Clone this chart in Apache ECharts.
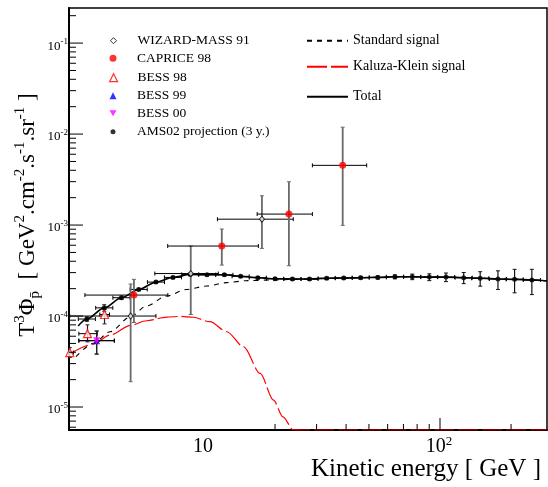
<!DOCTYPE html>
<html><head><meta charset="utf-8">
<script src="https://cdn.jsdelivr.net/npm/echarts@6/dist/echarts.min.js"></script>
<style>html,body{margin:0;padding:0;background:#fff}#c{width:548px;height:487px}</style>
</head><body><div id="c"></div>
<script>
// ---- axis ranges ----
const xMin = 2.68, xMax = 284;
const yMin = 5.59e-6, yMax = 0.243;

// ---- tick values / labels ----
const xMajorTicks = [100];
const xMinorTicks = [20, 30, 40, 50, 60, 70, 80, 90, 200];
const xTickLabelValues = [10, 100];
const xTickLabelTexts = ['10', '10{s|2}'];
const yMajorTicks = [1e-5, 1e-4, 1e-3, 1e-2, 1e-1];
const yTickLabelTexts = ['10{s|-5}', '10{s|-4}', '10{s|-3}', '10{s|-2}', '10{s|-1}'];
const yDecades = [1e-6, 1e-5, 1e-4, 1e-3, 1e-2, 1e-1];
const yMinorTicks = [];
yDecades.forEach(d => { for (let k = 2; k <= 9; k++) { const v = k * d; if (v > yMin && v < yMax) yMinorTicks.push(v); } });

// ---- AMS02 projection ----
const amsE = [3.19, 3.78, 4.47, 5.29, 6.26, 7.39, 8.75, 10.3, 12.2, 14.3, 16.9, 20.0, 23.7, 28.0, 33.1, 39.1, 46.1, 54.5, 64.4, 76.3, 90.1, 106, 126, 148, 176, 207, 245];
const amsV = [9.27e-5, 1.23e-4, 1.59e-4, 1.96e-4, 2.36e-4, 2.66e-4, 2.87e-4, 2.84e-4, 2.84e-4, 2.73e-4, 2.64e-4, 2.57e-4, 2.55e-4, 2.55e-4, 2.60e-4, 2.62e-4, 2.64e-4, 2.66e-4, 2.70e-4, 2.70e-4, 2.68e-4, 2.68e-4, 2.64e-4, 2.60e-4, 2.55e-4, 2.53e-4, 2.49e-4];
const amsErr = [5e-6, 1.0e-5, 6.4e-6, 5.9e-6, 7.1e-6, 8.0e-6, 8.6e-6, 8.5e-6, 8.5e-6, 8.2e-6, 7.9e-6, 7.7e-6, 7.7e-6, 7.7e-6, 7.8e-6, 7.9e-6, 9.2e-6, 1.06e-5, 1.35e-5, 1.9e-5, 2.3e-5, 2.9e-5, 3.7e-5, 4.7e-5, 5.9e-5, 7.3e-5, 7.7e-5];
const amsBinFactor = 1.087;

// ---- CAPRICE 98 ----
const capE = [5.05, 11.9, 22.9, 38.7];
const capV = [1.70e-4, 5.88e-4, 1.32e-3, 4.53e-3];
const capLow = [0.85e-4, 3.63e-4, 3.57e-4, 9.93e-4];
const capHigh = [2.53e-4, 9.04e-4, 2.99e-3, 1.19e-2];
const capEmin = [3.13, 7.02, 16.8, 28.8];
const capEmax = [7.03, 17.0, 28.8, 48.9];

// ---- WIZARD-MASS 91 ----
const wizE = [4.89, 8.79, 17.6];
const wizV = [1.0e-4, 2.93e-4, 1.16e-3];
const wizLow = [1.9e-5, 1.04e-4, 5.54e-4];
const wizHigh = [2.25e-4, 5.88e-4, 2.10e-3];
const wizEmin = [2.70, 6.19, 11.4];
const wizEmax = [6.26, 11.5, 23.9];

// ---- BESS 98 ----
const b98E = [2.70, 3.21, 3.79];
const b98V = [3.97e-5, 6.40e-5, 1.04e-4];
const b98Low = [3.5e-5, 5.2e-5, 8.2e-5];
const b98High = [4.5e-5, 8.0e-5, 1.18e-4];
const b98Emin = [2.62, 2.95, 3.62];
const b98Emax = [2.80, 3.53, 3.98];

// ---- BESS 99 ----
const b99E = [3.51];
const b99V = [5.36e-5];
const b99Low = [3.82e-5];
const b99High = [6.84e-5];
const b99Emin = [2.95];
const b99Emax = [4.17];

// ---- BESS 00 ----
const b00E = [3.51];
const b00V = [5.36e-5];
const b00Low = [3.82e-5];
const b00High = [6.84e-5];
const b00Emin = [2.95];
const b00Emax = [4.17];

// ---- model curves ----
const stdE = [2.87, 3.40, 4.00, 4.89, 5.71, 6.95, 8.45, 10.3, 12.5, 15.2, 19.6, 23.7, 28.0, 39.1, 54.5, 76.3, 106, 148, 207, 284];
const stdV = [3.57e-5, 5.01e-5, 6.72e-5, 9.82e-5, 1.29e-4, 1.66e-4, 1.96e-4, 2.14e-4, 2.33e-4, 2.45e-4, 2.49e-4, 2.53e-4, 2.54e-4, 2.61e-4, 2.66e-4, 2.70e-4, 2.68e-4, 2.60e-4, 2.53e-4, 2.43e-4];
const kkE = [2.70, 3.40, 4.00, 4.89, 5.71, 6.95, 7.94, 9.0, 10.6, 12.5, 14.7, 17.3, 19.7, 21.6, 23.9, 26, 40, 100, 284];
const kkV = [3.82e-5, 4.92e-5, 6.18e-5, 7.90e-5, 8.88e-5, 9.75e-5, 9.9e-5, 9.7e-5, 8.66e-5, 6.72e-5, 4.6e-5, 2.34e-5, 1.19e-5, 7.8e-6, 5.6e-6, 4e-6, 1e-6, 1e-7, 1e-8];
const totE = [2.93, 3.19, 3.78, 4.47, 5.29, 6.26, 7.39, 8.75, 10.3, 12.2, 14.3, 16.9, 20.0, 23.7, 28.0, 33.1, 39.1, 46.1, 54.5, 64.4, 76.3, 90.1, 106, 126, 148, 176, 207, 245, 284];
const totV = [7.77e-5, 9.27e-5, 1.23e-4, 1.59e-4, 1.96e-4, 2.36e-4, 2.66e-4, 2.87e-4, 2.84e-4, 2.84e-4, 2.73e-4, 2.64e-4, 2.57e-4, 2.55e-4, 2.55e-4, 2.60e-4, 2.62e-4, 2.64e-4, 2.66e-4, 2.70e-4, 2.70e-4, 2.68e-4, 2.68e-4, 2.64e-4, 2.60e-4, 2.55e-4, 2.53e-4, 2.49e-4, 2.43e-4];

// ---- legend ----
const markerNames = ['WIZARD-MASS 91', 'CAPRICE 98', 'BESS 98', 'BESS 99', 'BESS 00', 'AMS02 projection (3 y.)'];
const curveNames = ['Standard signal', 'Kaluza-Klein signal', 'Total'];

const SERIF = 'Liberation Serif';
const downTri = 'path://M0,0L10,0L5,8.66Z';

function errData(E, V, lo, hi, emin, emax) {
  return E.map((e, i) => [e, V[i], lo[i], hi[i], emin[i], emax[i]]);
}
function errRender(vColor, vWidth, hColor, hWidth) {
  return function (params, api) {
    const x = api.value(0), y = api.value(1);
    const c = api.coord([x, y]);
    const lo = api.coord([x, api.value(2)]);
    const hi = api.coord([x, api.value(3)]);
    const l = api.coord([api.value(4), y]);
    const r = api.coord([api.value(5), y]);
    const cap = 2;
    const ln = (x1, y1, x2, y2, col, w) => ({ type: 'line', shape: { x1, y1, x2, y2 }, style: { stroke: col, lineWidth: w } });
    return {
      type: 'group', children: [
        ln(c[0], lo[1], c[0], hi[1], vColor, vWidth),
        ln(c[0] - cap, lo[1], c[0] + cap, lo[1], vColor, 1),
        ln(c[0] - cap, hi[1], c[0] + cap, hi[1], vColor, 1),
        ln(l[0], c[1], r[0], c[1], hColor, hWidth),
        ln(l[0], c[1] - cap, l[0], c[1] + cap, hColor, 1),
        ln(r[0], c[1] - cap, r[0], c[1] + cap, hColor, 1)
      ]
    };
  };
}
function pts(E, V) { return E.map((e, i) => [e, V[i]]); }

const amsLow = amsV.map((v, i) => v - amsErr[i]);
const amsHigh = amsV.map((v, i) => v + amsErr[i]);
const amsEmin = amsE.map(e => e / amsBinFactor);
const amsEmax = amsE.map(e => e * amsBinFactor);

const chart = echarts.init(document.getElementById('c'), null, { renderer: 'canvas' });

const markerRows = [40.7, 58.3, 77.7, 95.7, 113.3, 131.7];
const markerIconH = [6, 7, 8, 7, 7, 5];
const markerX = 113, markerTextX = 137;
const curveRows = [40.7, 66.7, 96.7];
const legendItemStyle = {
  'BESS 98': { color: '#fff', borderColor: '#f00', borderWidth: 1.2 },
  'WIZARD-MASS 91': { color: '#fff', borderColor: '#000', borderWidth: 1 }
};

const legends = [];
markerNames.forEach((n, i) => {
  const h = markerIconH[i];
  const item = legendItemStyle[n] ? { name: n, itemStyle: legendItemStyle[n] } : { name: n };
  legends.push({
    data: [item], left: markerX - h / 2, top: markerRows[i] - 7, padding: 0,
    itemWidth: h, itemHeight: h, selectedMode: false,
    textStyle: { fontFamily: SERIF, fontSize: 13.5, color: '#000', padding: [0, 0, 0, markerTextX - markerX - h / 2 - 5] }
  });
});
curveNames.forEach((n, i) => {
  legends.push({
    data: [n], left: 306, top: curveRows[i] - 7, padding: 0,
    itemWidth: 41, itemHeight: 14, selectedMode: false,
    itemStyle: { opacity: 0 },
    textStyle: { fontFamily: SERIF, fontSize: 14, color: '#000' }
  });
});

const tickStyle = { stroke: '#000', lineWidth: 1 };

const option = {
  animation: false,
  backgroundColor: '#fff',
  legend: legends,
  grid: { left: 69, right: 1, top: 8, bottom: 57, show: true, borderColor: '#000', borderWidth: 1.5, backgroundColor: 'transparent' },
  xAxis: {
    type: 'log', logBase: 10, min: xMin, max: xMax,
    axisLine: { show: true, lineStyle: { color: '#000', width: 2 } },
    axisTick: { show: false }, axisLabel: { show: false }, splitLine: { show: false }, minorTick: { show: false }
  },
  yAxis: {
    type: 'log', logBase: 10, min: yMin, max: yMax,
    axisLine: { show: true, lineStyle: { color: '#000', width: 2 } },
    axisTick: { show: false }, axisLabel: { show: false }, splitLine: { show: false }, minorTick: { show: false }
  },
  graphic: [
    {
      type: 'text', x: 541, y: 469,
      style: { text: 'Kinetic energy [ GeV ]', fontFamily: SERIF, fontSize: 25, fill: '#000', align: 'right', verticalAlign: 'middle' }
    },
    {
      type: 'text', x: 28, y: 215, rotation: Math.PI / 2,
      style: {
        text: 'T{sup|3}Φ{sub|p̄}  [ GeV{sup|2}.cm{sup|-2}.s{sup|-1}.sr{sup|-1} ]',
        fontFamily: SERIF, fontSize: 23, lineHeight: 30, fill: '#000', align: 'center', verticalAlign: 'middle',
        rich: {
          sup: { fontFamily: SERIF, fontSize: 15, lineHeight: 15, verticalAlign: 'top', fill: '#000' },
          sub: { fontFamily: SERIF, fontSize: 15, lineHeight: 15, verticalAlign: 'bottom', fill: '#000' }
        }
      }
    }
  ],
  series: [
    // axis ticks and labels (drawn through the axis scales)
    {
      type: 'custom', silent: true, clip: false, z: 6, data: yMajorTicks.map(v => [xMin, v]),
      renderItem: (p, api) => { const c = api.coord([xMin, api.value(1)]); return { type: 'line', shape: { x1: c[0], y1: c[1], x2: c[0] + 14, y2: c[1] }, style: tickStyle }; }
    },
    {
      type: 'custom', silent: true, clip: false, z: 6, data: yMinorTicks.map(v => [xMin, v]),
      renderItem: (p, api) => { const c = api.coord([xMin, api.value(1)]); return { type: 'line', shape: { x1: c[0], y1: c[1], x2: c[0] + 7, y2: c[1] }, style: tickStyle }; }
    },
    {
      type: 'custom', silent: true, clip: false, z: 6, data: xMajorTicks.map(v => [v, yMin]),
      renderItem: (p, api) => { const c = api.coord([api.value(0), yMin]); return { type: 'line', shape: { x1: c[0], y1: c[1], x2: c[0], y2: c[1] - 12 }, style: tickStyle }; }
    },
    {
      type: 'custom', silent: true, clip: false, z: 6, data: xMinorTicks.map(v => [v, yMin]),
      renderItem: (p, api) => { const c = api.coord([api.value(0), yMin]); return { type: 'line', shape: { x1: c[0], y1: c[1], x2: c[0], y2: c[1] - 6 }, style: tickStyle }; }
    },
    {
      type: 'custom', silent: true, clip: false, z: 6, data: yMajorTicks.map(v => [xMin, v]),
      renderItem: (p, api) => {
        const c = api.coord([xMin, api.value(1)]);
        return { type: 'text', x: c[0] - 1, y: c[1] + 3, style: {
          text: yTickLabelTexts[p.dataIndex], fontFamily: SERIF, fontSize: 13, lineHeight: 18, fill: '#000', align: 'right', verticalAlign: 'middle',
          rich: { s: { fontFamily: SERIF, fontSize: 9, lineHeight: 10, verticalAlign: 'top', fill: '#000' } } } };
      }
    },
    {
      type: 'custom', silent: true, clip: false, z: 6, data: xTickLabelValues.map(v => [v, yMin]),
      renderItem: (p, api) => {
        const c = api.coord([api.value(0), yMin]);
        return { type: 'text', x: c[0] - 1, y: c[1] + 17, style: {
          text: xTickLabelTexts[p.dataIndex], fontFamily: SERIF, fontSize: 20, lineHeight: 24, fill: '#000', align: 'center', verticalAlign: 'middle',
          rich: { s: { fontFamily: SERIF, fontSize: 13, lineHeight: 13, verticalAlign: 'top', fill: '#000' } } } };
      }
    },
    // model curves
    {
      name: 'Standard signal', type: 'line', data: pts(stdE, stdV), symbol: 'none', smooth: 0.3, smoothMonotone: 'x', z: 2,
      lineStyle: { color: '#000', width: 1.1, type: [5, 5] }, itemStyle: { color: '#000' }
    },
    {
      name: 'Kaluza-Klein signal', type: 'line', data: kkE.map((e, i) => [e, Math.max(kkV[i], yMin)]), symbol: 'none', smooth: 0.3, smoothMonotone: 'x', z: 2,
      lineStyle: { color: '#f00', width: 1.2, type: [20, 4] }, itemStyle: { color: '#f00' }
    },
    {
      name: 'Total', type: 'line', data: pts(totE, totV), symbol: 'none', smooth: 0.3, smoothMonotone: 'x', z: 2,
      lineStyle: { color: '#000', width: 1.6 }, itemStyle: { color: '#000' }
    },
    // error bars
    { type: 'custom', silent: true, clip: true, z: 3, data: errData(amsE, amsV, amsLow, amsHigh, amsEmin, amsEmax), renderItem: errRender('#111', 1.2, '#000', 1) },
    { type: 'custom', silent: true, clip: true, z: 3, data: errData(wizE, wizV, wizLow, wizHigh, wizEmin, wizEmax), renderItem: errRender('#6a6a6a', 1.8, '#000', 1) },
    { type: 'custom', silent: true, clip: true, z: 3, data: errData(capE, capV, capLow, capHigh, capEmin, capEmax), renderItem: errRender('#6a6a6a', 1.8, '#000', 1) },
    { type: 'custom', silent: true, clip: true, z: 3, data: errData(b98E, b98V, b98Low, b98High, b98Emin, b98Emax), renderItem: errRender('#222', 1.2, '#000', 1) },
    { type: 'custom', silent: true, clip: true, z: 3, data: errData(b99E, b99V, b99Low, b99High, b99Emin, b99Emax), renderItem: errRender('#222', 1.2, '#000', 1) },
    { type: 'custom', silent: true, clip: true, z: 3, data: errData(b00E, b00V, b00Low, b00High, b00Emin, b00Emax), renderItem: errRender('#222', 1.2, '#000', 1) },
    // markers
    { name: 'AMS02 projection (3 y.)', type: 'scatter', data: pts(amsE, amsV), symbol: 'circle', symbolSize: 5, z: 4, itemStyle: { color: '#000' } },
    { name: 'WIZARD-MASS 91', type: 'scatter', data: pts(wizE, wizV), symbol: 'diamond', symbolSize: [5, 6], z: 5, itemStyle: { color: '#fff', borderColor: '#000', borderWidth: 1 } },
    { name: 'CAPRICE 98', type: 'scatter', data: pts(capE, capV), symbol: 'circle', symbolSize: 7, z: 5, itemStyle: { color: '#f00' } },
    { name: 'BESS 98', type: 'scatter', data: pts(b98E, b98V), symbol: 'triangle', symbolSize: 8, z: 5, itemStyle: { color: '#fff', borderColor: '#f00', borderWidth: 1.2 } },
    { name: 'BESS 99', type: 'scatter', data: pts(b99E, b99V), symbol: 'triangle', symbolSize: 7, z: 5, itemStyle: { color: '#00f' } },
    { name: 'BESS 00', type: 'scatter', data: pts(b00E, b00V), symbol: downTri, symbolSize: 7, z: 5, itemStyle: { color: '#f0f' } }
  ]
};
chart.setOption(option);
</script>
</body></html>
